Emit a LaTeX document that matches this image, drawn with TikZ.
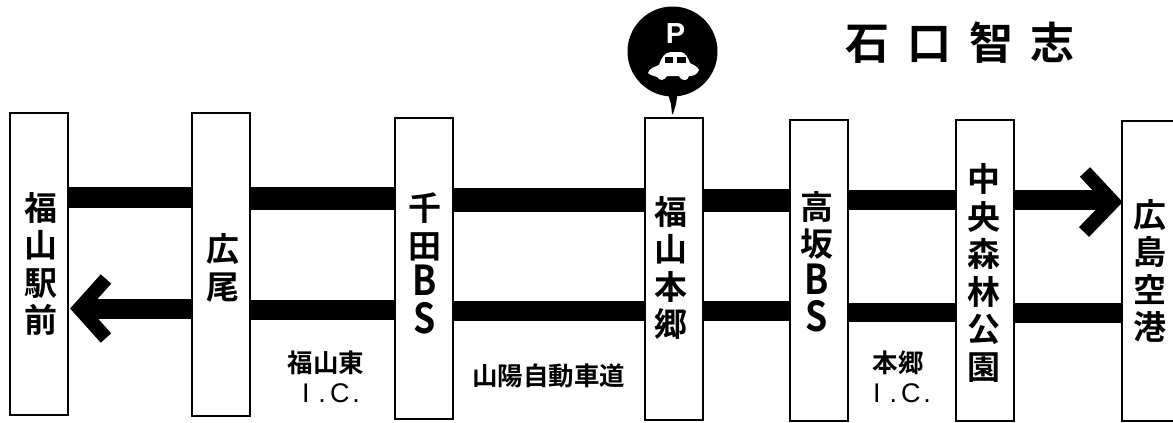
\documentclass[tikz,border=0pt]{standalone}
\usepackage{fontspec}
\setmainfont{Noto Sans CJK JP}[BoldFont={Noto Sans CJK JP Bold}]
\newfontfamily\latinb{Liberation Sans}
\newcommand{\tallch}[1]{\smash{\scalebox{1.08}[1.25]{#1}}}
\newcommand{\icmark}{{\latinb\fontsize{27pt}{30pt}\selectfont\mdseries I\hspace{9pt}.\hspace{4pt}C\hspace{3pt}.}}
\tikzset{
  x=1pt,y=-1pt,
  stop/.style={draw,line width=2pt,fill=white,minimum width=58pt,anchor=north west,inner sep=0pt},
  stoplabel/.style={font=\fontsize{33pt}{37.5pt}\selectfont\bfseries,align=center,inner sep=0pt},
  bar/.style={line width=#1},
  bar/.default=20.5pt,
  tip/.style={line width=14pt,miter limit=10},
  small/.style={font=\fontsize{25.5pt}{30pt}\selectfont\bfseries,align=center,inner sep=0pt},
}
\begin{document}
\begin{tikzpicture}
\useasboundingbox (0,0) rectangle (1173,423);
% stops
\node[stop,minimum height=302pt] (A) at (8.5,112) {};
\node[stop,minimum height=303pt] (B) at (190.5,112) {};
\node[stop,minimum height=301pt] (C) at (394,117) {};
\node[stop,minimum height=302pt] (D) at (643.5,117) {};
\node[stop,minimum height=301pt] (E) at (789,119) {};
\node[stop,minimum height=301pt] (F) at (955,119) {};
\node[stop,minimum height=300pt] (G) at (1121,120) {};
% labels
\node[stoplabel] (la) at (41,264) {福\\山\\駅\\前};
\node[stoplabel] (lb) at (223,268) {広\\尾};
\node[stoplabel,anchor=north] (lc) at (425,193) {千\\田\\\tallch{B}\\\tallch{S}};
\node[stoplabel] (ld) at (671,268) {福\\山\\本\\郷};
\node[stoplabel,anchor=north] (le) at (817,191) {高\\坂\\\tallch{B}\\\tallch{S}};
\node[stoplabel] (lf) at (984,273) {中\\央\\森\\林\\公\\園};
\node[stoplabel] (lg) at (1150,271) {広\\島\\空\\港};
\coordinate (u1) at (0,197); \coordinate (u2) at (0,198.5); \coordinate (u3) at (0,200);
\coordinate (d1) at (0,309); \coordinate (d2) at (0,310); \coordinate (d3) at (0,311); \coordinate (d4) at (0,312.5);
% upper road
\draw[bar=21pt] (A.east |- u1) -- (B.west |- u1);
\draw[bar=23pt] (B.east |- u2) -- (C.west |- u2);
\draw[bar=23.5pt] (C.east |- u3) -- (D.west |- u3);
\draw[bar=23pt] (D.east |- u3) -- (E.west |- u3);
\draw[bar=20.5pt] (E.east |- u3) -- (F.west |- u3);
\draw[bar=20.5pt] (F.east |- u3) -- ([xshift=-10pt]G.west |- u3);
\draw[tip] (1085,172) -- (1113,202) -- (1084,232);
% lower road
\draw[bar=20pt] ([xshift=20pt]A.east |- d1) -- (B.west |- d1);
\draw[tip] (106,279) -- (79.5,308.5) -- (106,338);
\draw[bar=20pt] (B.east |- d2) -- (C.west |- d2);
\draw[bar=20pt] (C.east |- d3) -- (D.west |- d3);
\draw[bar=20pt] (D.east |- d3) -- (E.west |- d3);
\draw[bar=19.5pt] (E.east |- d4) -- (F.west |- d4);
\draw[bar=20pt] (F.east |- d4) -- (G.west |- d4);
% interchange labels
\node[small] (ic1) at (326,377) {福山東\\\hspace*{10pt}\icmark};
\node[small] (mid) at (548.5,376) {山陽自動車道};
\node[small] (ic2) at (898,377) {本郷\\\hspace*{8pt}\icmark};
% parking pin
\node[circle,fill=black,minimum size=90pt,inner sep=0pt] (pin) at (672.5,51.5) {};
\fill (668,94) -- (677.5,94) -- (676,104) -- (673,114) -- (672,114) -- (671,104) -- cycle;
\node[text=white,font=\latinb\fontsize{29pt}{29pt}\selectfont\bfseries,inner sep=0pt] (p) at (675.5,33.5) {P};
\fill[white] (648,73) .. controls (649,68) and (655,67) .. (659,65)
  .. controls (661,58) and (665,52) .. (671,52) -- (681,52) .. controls (686,53) and (688,58) .. (690,63)
  .. controls (694,65) and (698,67) .. (699,70) .. controls (697,75) and (693,76) .. (689,76)
  .. controls (688,81) and (682,82) .. (679,76) -- (667,76)
  .. controls (664,81) and (660,81) .. (657,77) .. controls (654,76) and (650,75) .. (648,73) -- cycle;
\fill (665,57) rectangle (673,63);
\fill (677,57) rectangle (686,63);
% title
\node[font=\fontsize{44pt}{44pt}\selectfont\bfseries,inner sep=0pt] (title) at (960,43) {石\hspace{18pt}口\hspace{18pt}智\hspace{18pt}志};
\end{tikzpicture}
\end{document}
